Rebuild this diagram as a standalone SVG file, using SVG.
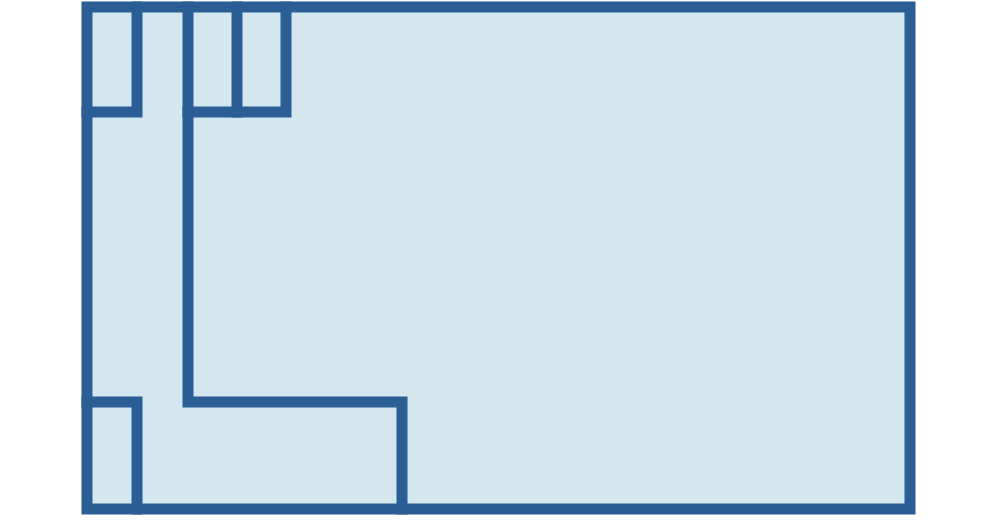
<svg xmlns="http://www.w3.org/2000/svg" width="1000" height="520" viewBox="0 0 1000 520">
<style>
.wall{fill:none;stroke:#2b5e95;stroke-width:11;stroke-linejoin:miter;stroke-linecap:square}
</style>
<rect width="1000" height="520" fill="#ffffff"/>
<rect x="87" y="7" width="823" height="502" fill="#d4e6ee"/>
<g id="plan">
<rect class="wall" x="87" y="7" width="823" height="502"/>
<polyline class="wall" points="137,7 137,112 87,112"/>
<polyline class="wall" points="188,7 188,402 402,402 402,509"/>
<polyline class="wall" points="188,112 286,112 286,7"/>
<line class="wall" x1="237" y1="7" x2="237" y2="112"/>
<polyline class="wall" points="87,402 137,402 137,509"/>
</g>
</svg>
